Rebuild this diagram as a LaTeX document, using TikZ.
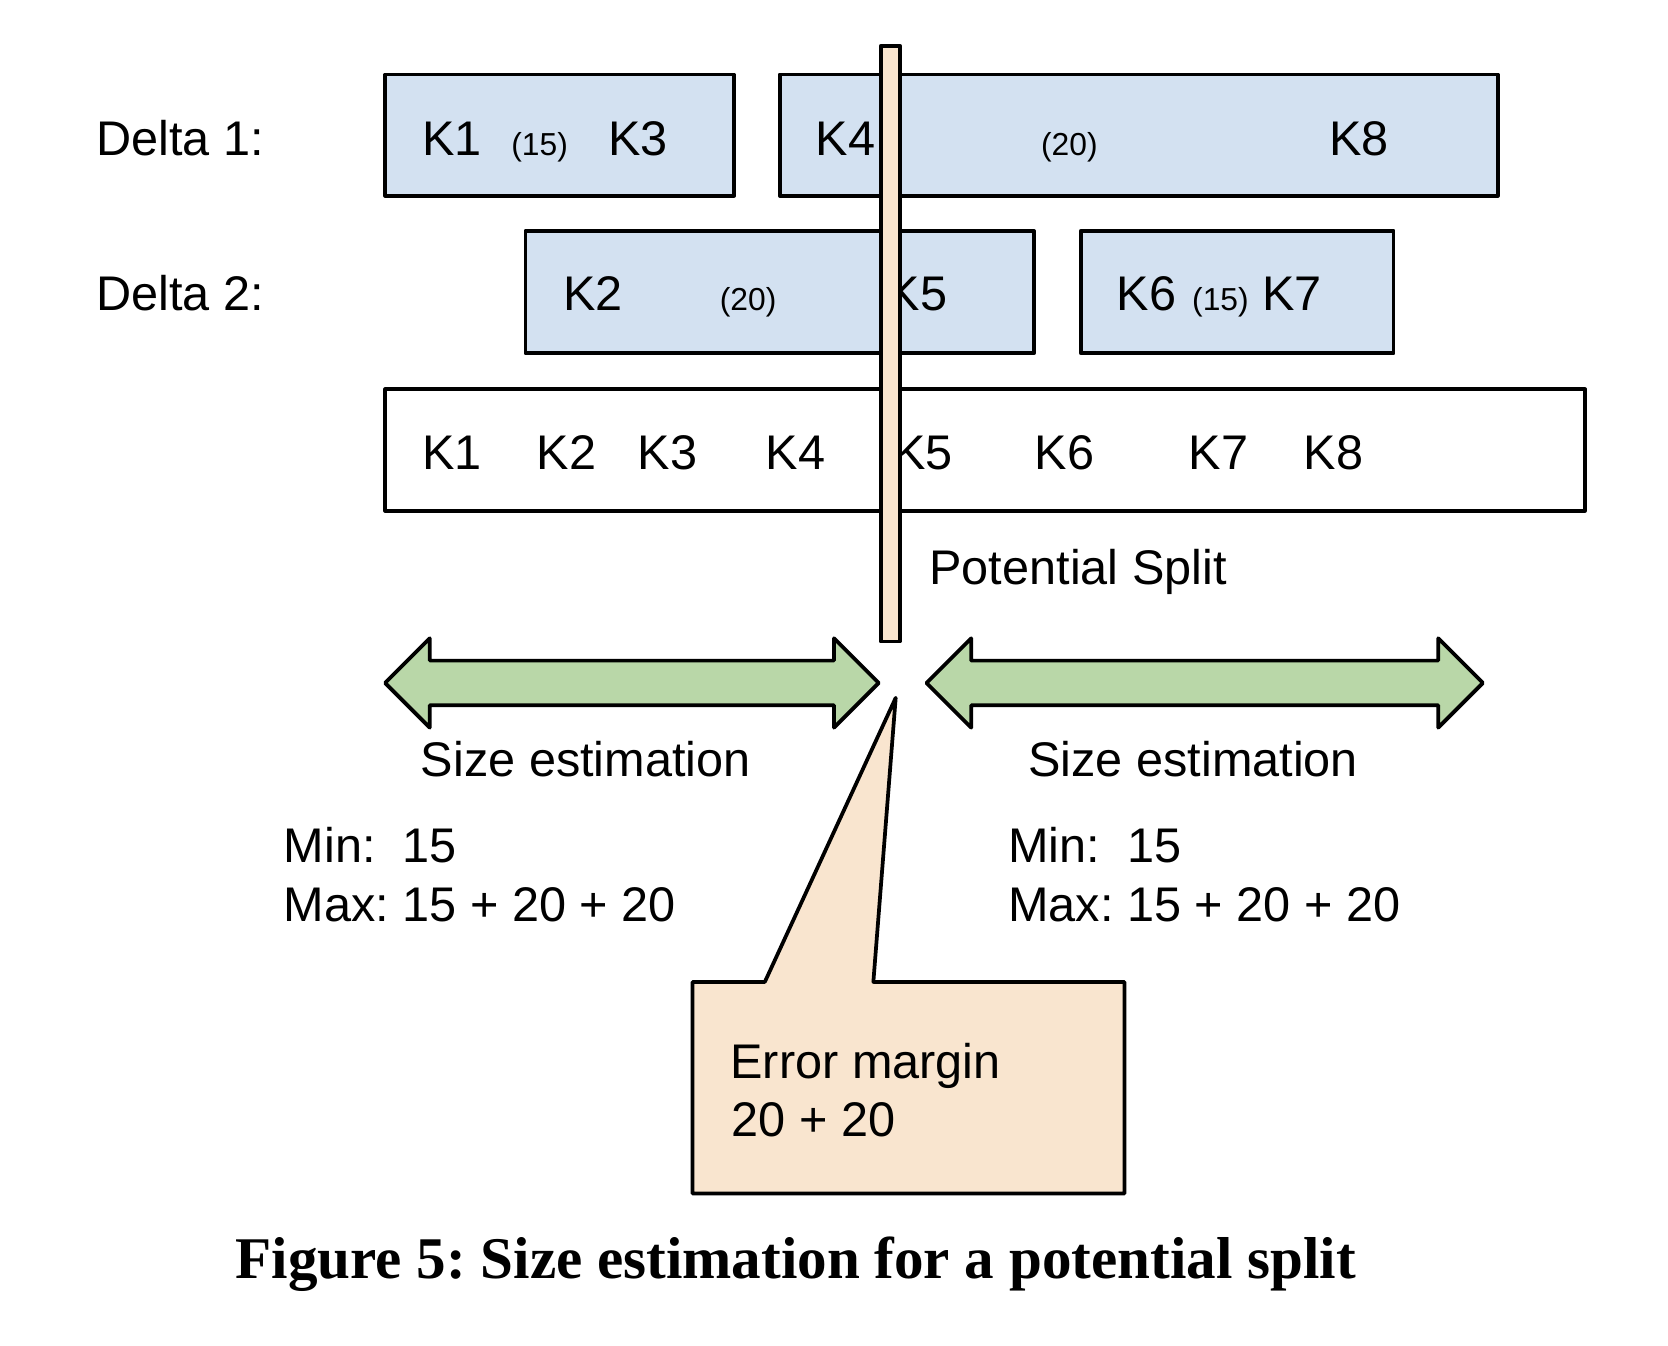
\documentclass[tikz,border=0pt]{standalone}
\usepackage{fontspec}
\setmainfont{Liberation Sans}
\newfontfamily\capfont{Liberation Serif}
\definecolor{boxblue}{HTML}{D3E1F1}
\definecolor{arrgreen}{HTML}{B9D7A8}
\definecolor{peach}{HTML}{F9E5CF}
\frenchspacing
\begin{document}
\begin{tikzpicture}[x=0.01cm,y=-0.01cm,
  outl/.style={draw=black,line width=1pt,line join=round},
  lbl/.style={inner sep=0pt,anchor=base west,xshift=0.02cm,font=\fontsize{13}{15}\selectfont},
  sml/.style={inner sep=0pt,anchor=base west,xshift=0.02cm,font=\fontsize{8.5}{10}\selectfont},
  capt/.style={inner sep=0pt,anchor=base,font=\capfont\bfseries\fontsize{15.8}{18}\selectfont}]
\useasboundingbox (0,0) rectangle (1568,1265);
% boxes
\draw[outl,fill=boxblue] (362,70) rectangle (690,184);
\draw[outl,fill=boxblue] (733,70) rectangle (1408,184);
\draw[outl,fill=boxblue] (494,217) rectangle (972,332);
\draw[outl,fill=boxblue] (1016,217) rectangle (1310,332);
\draw[outl,fill=white] (362,366) rectangle (1490,480);
% labels
\node[lbl] (d1) at (88,146) {Delta 1:};
\node[lbl] (d2) at (88,292) {Delta 2:};
% row 1
\node[lbl] (a1) at (394,146) {K1};
\node[sml] (a2) at (478,146) {(15)};
\node[lbl] (a3) at (569,146) {K3};
\node[lbl] (b1) at (764,146) {K4};
\node[sml] (b2) at (976,146) {(20)};
\node[lbl] (b3) at (1247,146) {K8};
% row 2
\node[lbl] (c1) at (527,292) {K2};
\node[sml] (c2) at (674,292) {(20)};
\node[lbl] (c3) at (832,292) {K5};
\node[lbl] (e1) at (1047,292) {K6};
\node[sml] (e2) at (1118,292) {(15)};
\node[lbl] (e3) at (1184,292) {K7};
% row 3
\node[lbl] (r1) at (394,441) {K1};
\node[lbl] (r2) at (502,441) {K2};
\node[lbl] (r3) at (597,441) {K3};
\node[lbl] (r4) at (717,441) {K4};
\node[lbl] (r5) at (837,441) {K5};
\node[lbl] (r6) at (970,441) {K6};
\node[lbl] (r7) at (1115,441) {K7};
\node[lbl] (r8) at (1223,441) {K8};
% split bar
\draw[outl,fill=peach] (828,43) rectangle (846,603);
\node[lbl] (ps) at (871,549) {Potential Split};
% double arrows
\draw[outl,fill=arrgreen] (362,642) -- (404,600) -- (404,621) -- (784,621) -- (784,600) -- (826,642) -- (784,684) -- (784,663) -- (404,663) -- (404,684) -- cycle;
\draw[outl,fill=arrgreen] (871,642) -- (913,600) -- (913,621) -- (1352,621) -- (1352,600) -- (1394,642) -- (1352,684) -- (1352,663) -- (913,663) -- (913,684) -- cycle;
\node[lbl] (s1) at (393,730) {Size estimation};
\node[lbl] (s2) at (964,730) {Size estimation};
\node[lbl] (m1) at (264,811) {Min:\ \ 15};
\node[lbl] (x1) at (264,866) {Max: 15 + 20 + 20};
\node[lbl] (m2) at (945,811) {Min:\ \ 15};
\node[lbl] (x2) at (945,866) {Max: 15 + 20 + 20};
% callout
\draw[outl,fill=peach] (651,923) -- (719,923) -- (842,656) -- (821,923) -- (1057,923) -- (1057,1122) -- (651,1122) -- cycle;
\node[lbl] (em) at (684,1014) {Error margin};
\node[lbl] (ev) at (685,1068) {20 + 20};
% caption
\node[capt] (cap) at (748,1202) {Figure 5: Size estimation for a potential split};
\end{tikzpicture}
\end{document}
